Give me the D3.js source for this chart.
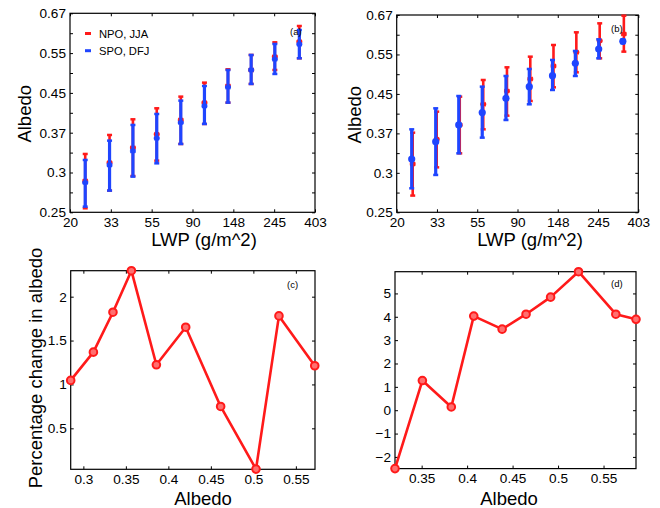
<!DOCTYPE html>
<html>
<head>
<meta charset="utf-8" />
<title>Albedo vs LWP</title>
<style>
html, body {
    margin: 0;
    padding: 0;
    background: #fff;
}
text {
    font-family: "Liberation Sans", Arial, Helvetica, sans-serif;
}
</style>
</head>
<body>
<div id="chart"></div>
<script src="https://cdnjs.cloudflare.com/ajax/libs/d3/7.8.5/d3.min.js"></script>
<script>
// bin centres of LWP (g/m^2), shared by (a) and (b)
var lwpBins = [24.2, 32.6, 43.4, 58.1, 78.0, 104.2, 139, 184.6, 246.7, 333]

// tick labels of the log axes (ln spacing 0.5 on x, 0.2 on y)
var lwpTickLabels = ["20", "33", "55", "90", "148", "245", "403"]
var albTickLabels = ["0.25", "0.3", "0.37", "0.45", "0.55", "0.67"]

// (a) mean and spread of albedo
var npoMeanA = [0.2887, 0.3165, 0.3413, 0.3649, 0.3922, 0.4279, 0.4653, 0.5042, 0.5391, 0.5813]
var npoLoA   = [0.2516, 0.2750, 0.2960, 0.3197, 0.3476, 0.3844, 0.4279, 0.4700, 0.5042, 0.5347]
var npoHiA   = [0.3306, 0.3637, 0.3935, 0.4159, 0.4410, 0.4731, 0.5059, 0.5437, 0.5794, 0.6289]
var spoMeanA = [0.2862, 0.3128, 0.3356, 0.3577, 0.3870, 0.4208, 0.4622, 0.5042, 0.5320, 0.5736]
var spoLoA   = [0.2537, 0.2750, 0.2950, 0.3154, 0.3476, 0.3844, 0.4279, 0.4700, 0.4942, 0.5347]
var spoHiA   = [0.3208, 0.3535, 0.3825, 0.4042, 0.4322, 0.4653, 0.5042, 0.5437, 0.5746, 0.6164]

// (b)
var npoMeanB = [0.3150, 0.3570, 0.3839, 0.4263, 0.4561, 0.4847, 0.5177, 0.5548, 0.5885, 0.6088]
var npoLoB   = [0.2684, 0.3097, 0.3325, 0.3755, 0.4025, 0.4335, 0.4646, 0.5013, 0.5382, 0.5567]
var npoHiB   = [0.3692, 0.4107, 0.4431, 0.4822, 0.5142, 0.5427, 0.5758, 0.6140, 0.6426, 0.6680]
var spoMeanB = [0.3231, 0.3528, 0.3839, 0.4087, 0.4394, 0.4662, 0.4929, 0.5247, 0.5642, 0.5866]
var spoLoB   = [0.2785, 0.2980, 0.3325, 0.3600, 0.3937, 0.4263, 0.4584, 0.4921, 0.5382, 0.5815]
var spoHiB   = [0.3755, 0.4177, 0.4446, 0.4662, 0.4921, 0.5099, 0.5337, 0.5586, 0.5925, 0.5920]

// (c) and (d) percentage change in albedo
var albedoC = [0.2851, 0.3118, 0.3348, 0.3565, 0.3859, 0.4204, 0.4615, 0.5031, 0.5301, 0.5722]
var pctC    = [1.046, 1.368, 1.823, 2.296, 1.224, 1.652, 0.749, 0.035, 1.781, 1.213]
var albedoD = [0.3207, 0.3508, 0.3826, 0.4073, 0.4385, 0.4648, 0.4918, 0.5225, 0.5635, 0.5857]
var pctD    = [-2.50, 1.27, 0.14, 4.03, 3.47, 4.11, 4.84, 5.93, 4.11, 3.89]

var RED = "#ff1a1a", BLUE = "#1f45ff"

!(function(){
    "use strict"

    var svg = d3.select("#chart").append("svg")
        .attr("width", 660).attr("height", 508)

    function series(mean, lo, hi) {
        return lwpBins.map(function(x, i){ return {x: x, m: mean[i], lo: lo[i], hi: hi[i]} })
    }

    // draw the four tick rows (inward ticks, box on)
    function frame(g, box, x, y, xt, xfmt, yt, yfmt) {
        g.append("g").attr("transform", "translate(0," + box.y1 + ")")
            .call(d3.axisBottom(x).tickValues(xt).tickSize(-3).tickPadding(5).tickFormat(xfmt))
        g.append("g").attr("transform", "translate(0," + box.y0 + ")")
            .call(d3.axisTop(x).tickValues(xt).tickSize(-3).tickFormat(""))
        g.append("g").attr("transform", "translate(" + box.x0 + ",0)")
            .call(d3.axisLeft(y).tickValues(yt).tickSize(-3).tickPadding(4).tickFormat(yfmt))
        g.append("g").attr("transform", "translate(" + box.x1 + ",0)")
            .call(d3.axisRight(y).tickValues(yt).tickSize(-3).tickFormat(""))
        g.selectAll(".domain").remove()
        g.selectAll(".tick line").attr("stroke", "#000")
        g.selectAll(".tick text").attr("font-size", "13.6px").attr("fill", "#000")
            .style("font-family", "'Liberation Sans', Arial, sans-serif")
        g.append("rect")
            .attr("x", box.x0).attr("y", box.y0)
            .attr("width", box.x1 - box.x0).attr("height", box.y1 - box.y0)
            .attr("fill", "none").attr("stroke", "#000").attr("stroke-width", 1.2)
    }

    function bars(g, data, x, y, color, width, dx, marker) {
        var grp = g.append("g").selectAll("g").data(data).enter().append("g")
            .attr("transform", function(d){ return "translate(" + (x(d.x) + dx) + ",0)" })
        grp.append("line")
            .attr("y1", function(d){ return y(d.lo) }).attr("y2", function(d){ return y(d.hi) })
            .attr("stroke", color).attr("stroke-width", width)
        grp.append("line").attr("x1", -2.5).attr("x2", 2.5)
            .attr("y1", function(d){ return y(d.hi) }).attr("y2", function(d){ return y(d.hi) })
            .attr("stroke", color).attr("stroke-width", 2.5)
        grp.append("line").attr("x1", -2.5).attr("x2", 2.5)
            .attr("y1", function(d){ return y(d.lo) }).attr("y2", function(d){ return y(d.lo) })
            .attr("stroke", color).attr("stroke-width", 2.5)
        if (marker === "dot") {
            grp.append("circle").attr("cy", function(d){ return y(d.m) }).attr("r", 3.6)
                .attr("fill", color)
        } else {
            grp.append("path")
                .attr("d", function(d){ var m = y(d.m); return "M-3," + m + "H3M-2.5," + (m - 1.8) + "L2.5," + (m + 1.8) + "M-2.5," + (m + 1.8) + "L2.5," + (m - 1.8) })
                .attr("stroke", color).attr("stroke-width", 1.6).attr("fill", "none")
        }
    }

    function logPanel(box, npo, spo, label, lab, blueMarker) {
        var g = svg.append("g")
        var x = d3.scaleLog().domain([Math.exp(3), Math.exp(6)]).range([box.x0, box.x1])
        var y = d3.scaleLog().domain([Math.exp(-1.4), Math.exp(-0.4)]).range([box.y1, box.y0])
        var xt = d3.range(0, 7).map(function(i){ return Math.exp(3 + 0.5 * i) })
        var yt = d3.range(0, 11).map(function(i){ return Math.exp(-1.4 + 0.1 * i) })
        frame(g, box, x, y, xt, function(d, i){ return lwpTickLabels[i] },
            yt, function(d, i){ return i % 2 === 0 ? albTickLabels[i / 2] : "" })

        bars(g, npo, x, y, RED, 2.6, lab.dx, "plus")
        bars(g, spo, x, y, BLUE, 3.2, 0, blueMarker)

        g.append("text").attr("x", lab.xl).attr("y", box.y1 + 34)
            .attr("text-anchor", "middle").attr("font-size", "18.5px").text("LWP (g/m^2)")
        g.append("text").attr("transform", "translate(" + lab.yl + "," + ((box.y0 + box.y1) / 2 + 1) + ") rotate(-90)")
            .attr("text-anchor", "middle").attr("font-size", "18.5px").text("Albedo")
        g.append("text").attr("x", lab.px).attr("y", lab.py)
            .attr("font-size", "9.5px").text(label)
        return g
    }

    function linePanel(box, xs, ys, xdom, ydom, xt, yt, label, lab) {
        var g = svg.append("g")
        var x = d3.scaleLinear().domain(xdom).range([box.x0, box.x1])
        var y = d3.scaleLinear().domain(ydom).range([box.y1, box.y0])
        frame(g, box, x, y, xt, function(d){ return d3.format("")(d) }, yt, function(d){ return d3.format("")(d) })
        var pts = xs.map(function(v, i){ return [v, ys[i]] })
        g.append("path").datum(pts)
            .attr("d", d3.line().x(function(d){ return x(d[0]) }).y(function(d){ return y(d[1]) }))
            .attr("fill", "none").attr("stroke", RED).attr("stroke-width", 2.6)
            .attr("stroke-linejoin", "round")
        g.selectAll("circle.pt").data(pts).enter().append("circle")
            .attr("cx", function(d){ return x(d[0]) }).attr("cy", function(d){ return y(d[1]) })
            .attr("r", 3.8).attr("fill", "#ff7070").attr("stroke", RED).attr("stroke-width", 2)
        g.append("text").attr("x", lab.xl).attr("y", box.y1 + 36)
            .attr("text-anchor", "middle").attr("font-size", "18.5px").text("Albedo")
        if (lab.ytitle) {
            g.append("text").attr("transform", "translate(" + lab.yl + "," + lab.yc + ") rotate(-90)")
                .attr("text-anchor", "middle").attr("font-size", "18.5px").text(lab.ytitle)
        }
        g.append("text").attr("x", lab.px).attr("y", lab.py)
            .attr("font-size", "9.5px").text(label)
        return g
    }

    // (a)
    var boxA = {x0: 70, x1: 315, y0: 13.3, y1: 212.3}
    logPanel(boxA, series(npoMeanA, npoLoA, npoHiA), series(spoMeanA, spoLoA, spoHiA), "(a)",
        {xl: 204, yl: 31, px: 290, py: 35, dx: 0}, "star")

    // legend in (a)
    var legend = svg.append("g")
    legend.append("line").attr("x1", 85).attr("x2", 91).attr("y1", 33.5).attr("y2", 33.5)
        .attr("stroke", RED).attr("stroke-width", 3)
    legend.append("line").attr("x1", 85).attr("x2", 91).attr("y1", 50.7).attr("y2", 50.7)
        .attr("stroke", BLUE).attr("stroke-width", 3)
    legend.append("text").attr("x", 99).attr("y", 37.5).attr("font-size", "11.2px").text("NPO, JJA")
    legend.append("text").attr("x", 99).attr("y", 54.7).attr("font-size", "11.2px").text("SPO, DFJ")

    // (b)
    var boxB = {x0: 396.7, x1: 638.3, y0: 15, y1: 212.3}
    logPanel(boxB, series(npoMeanB, npoLoB, npoHiB), series(spoMeanB, spoLoB, spoHiB), "(b)",
        {xl: 530, yl: 361, px: 611, py: 32, dx: 1}, "dot")

    // (c)
    var boxC = {x0: 70.7, x1: 315, y0: 270.7, y1: 469.3}
    linePanel(boxC, albedoC, pctC, [0.2851, 0.5725], [0.033, 2.296],
        [0.3, 0.35, 0.4, 0.45, 0.5, 0.55], [0.5, 1, 1.5, 2], "(c)",
        {xl: 203, ytitle: "Percentage change in albedo", yl: 42, yc: 368, px: 287, py: 288})

    // (d)
    var boxD = {x0: 395, x1: 636, y0: 271.7, y1: 468.6}
    linePanel(boxD, albedoD, pctD, [0.3207, 0.5857], [-2.5, 5.93],
        [0.35, 0.4, 0.45, 0.5, 0.55], [-2, -1, 0, 1, 2, 3, 4, 5], "(d)",
        {xl: 509, px: 611, py: 287})
}());
</script>
</body>
</html>
